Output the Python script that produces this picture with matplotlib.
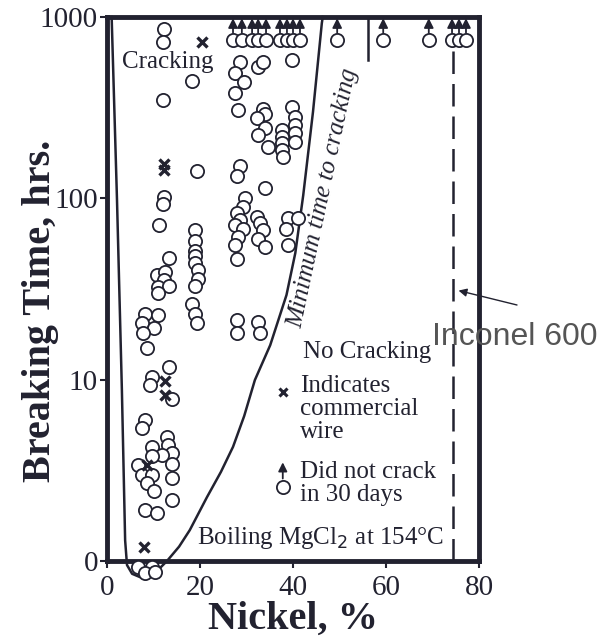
import matplotlib.pyplot as plt

plt.rcParams['font.family'] = ['Liberation Serif', 'DejaVu Serif']
ink = '#222230'

# cracked specimens (Ni %, hours)
crack_ni = [12.3, 12.0, 18.3, 12.0, 19.3, 12.3, 12.1, 11.2,
            18.9, 18.9, 18.9, 18.9, 18.9, 19.5, 19.5, 18.9, 18.3, 18.9, 19.3,
            13.4, 10.7, 12.5, 12.3, 11.0, 13.4, 10.9,
            8.2, 11.0, 7.5, 10.0, 7.8, 8.5, 13.4, 9.6, 9.2,
            13.9, 8.2, 7.5, 12.8, 13.2, 9.6, 13.9, 11.8, 9.6, 13.9, 6.7, 7.5, 9.6,
            13.9, 8.5, 10.0, 13.9, 8.2, 10.7, 6.7, 9.6, 8.2, 10.4,
            28.6, 32.4, 33.6, 39.7, 27.5, 29.5, 27.5, 28.2, 33.6, 34.0, 32.2, 39.7,
            34.0, 32.5, 37.6, 37.6, 37.6, 37.6, 37.8, 40.4, 40.4, 40.4, 40.4, 34.7,
            28.6, 27.9, 34.0, 29.7, 29.3, 27.9, 28.6, 27.5, 29.3, 28.2, 27.5, 27.9,
            32.2, 32.9, 33.6, 32.5, 34.0, 39.0, 41.1, 38.6, 39.0,
            27.9, 27.9, 32.5, 32.9]
crack_hrs = [860, 730, 444, 349, 142, 102, 93, 71,
             67, 58, 51, 48, 44, 40, 36, 33, 26, 23, 20.5,
             47, 38, 39, 35.5, 32.6, 33, 30,
             23, 22.7, 20.5, 19.2, 18, 15, 11.8, 10.4, 9.35,
             7.8, 6.0, 5.4, 4.85, 4.36, 4.27, 3.93, 3.84, 3.8, 3.43, 3.39, 2.98, 2.98,
             2.88, 2.68, 2.43, 2.17, 1.91, 1.83, 0.93, 0.93, 0.86, 0.87,
             567, 533, 567, 580, 490, 440, 380, 308, 310, 292, 277, 320,
             243, 224, 238, 219, 201, 185, 170, 282, 254, 229, 205, 193,
             150, 132, 114, 101, 90, 83, 76, 71, 68, 61.5, 55, 46,
             79, 73, 67, 60, 54, 78, 78, 68, 55,
             21.3, 18, 20.9, 18]

# commercial wire
wire_ni = [20.4, 12.3, 12.3, 12.5, 12.5, 8.5, 8.0]
wire_hrs = [730, 155, 143, 9.8, 8.2, 3.39, 1.2]

# did not crack in 30 days
nocrack_ni = [27.1, 29.0, 31.2, 32.5, 34.2, 37.2, 38.7, 40.0, 41.5,
              49.5, 59.4, 69.2, 74.2, 75.7, 77.2]
nocrack_hrs = 750

# minimum time to cracking curve
curve_ni = [1.0, 2.15, 3.2, 3.9, 4.3, 5.4, 7.1, 9.2, 11.4, 12.9, 15.5, 17.8,
            21.5, 24.5, 27.1, 29.5, 31.8, 35.1, 38.6, 40.5, 42.2, 44.3, 46.2, 46.4]
curve_hrs = [1000, 98, 8.8, 1.3, 0.95, 0.85, 0.815, 0.84, 0.915, 1.0, 1.2, 1.48,
             2.25, 3.1, 4.26, 6.3, 9.95, 15.5, 29.3, 50, 104, 300, 925, 1000]

inconel_ni = 74.4

fig = plt.figure(figsize=(6.13, 6.42), dpi=100)
ax = fig.add_axes([107/613, 81/642, 372/613, 544/642])
ax.set_yscale('log')
ax.set_xlim(0, 80)
ax.set_ylim(1, 1000)

ax.plot(curve_ni, curve_hrs, color=ink, lw=1.8, clip_on=False, zorder=3)
ax.plot([56.1, 56.1], [1000, 580], color=ink, lw=1.8, zorder=3)
ax.plot([inconel_ni, inconel_ni], [1, 650], color=ink, lw=1.8,
        linestyle=(0, (9, 4)), zorder=3)

circ = dict(marker='o', ms=9.5, mfc='white', mec=ink, mew=1.3,
            linestyle='none', clip_on=False, zorder=5)
ax.plot(crack_ni, crack_hrs, **circ)
ax.plot(nocrack_ni, [nocrack_hrs] * len(nocrack_ni), **circ)
for x in nocrack_ni:
    ax.annotate('', xy=(x, 985), xytext=(x, 820),
                arrowprops=dict(arrowstyle='-|>', color=ink, lw=1.3,
                                mutation_scale=14, shrinkA=0, shrinkB=0),
                zorder=4)
ax.plot(wire_ni, wire_hrs, marker='x', ms=7, mew=2.4, color=ink,
        linestyle='none', clip_on=False, zorder=6)

# text inside the plot
ax.text(13.1, 565, 'Cracking', fontsize=18, color=ink, ha='center', va='center')
ax.text(46.4, 100, 'Minimum time to cracking', fontsize=18, style='italic',
        color=ink, rotation=78, ha='center', va='center')
ax.text(42.2, 14.2, 'No Cracking', fontsize=18, color=ink, va='center')
ax.plot([37.8], [8.6], marker='x', ms=6, mew=2.2, color=ink, linestyle='none')
ax.text(41.5, 10.6, 'Indicates\ncommercial\nwire', fontsize=18, color=ink,
        va='top', ha='left', linespacing=1.05)
ax.plot([37.8], [2.56], **circ)
ax.annotate('', xy=(37.8, 3.5), xytext=(37.8, 2.85),
            arrowprops=dict(arrowstyle='-|>', color=ink, lw=1.3,
                            mutation_scale=13, shrinkA=0, shrinkB=0))
ax.text(41.5, 3.55, 'Did not crack\nin 30 days', fontsize=18, color=ink,
        va='top', ha='left', linespacing=1.05)
ax.text(19.4, 1.34, r'Boiling MgCl$_2$ at 154°C', fontsize=18, color=ink,
        va='center', ha='left')

# Inconel 600 annotation
ax.annotate('', xy=(75.6, 31), xytext=(517/613, 1 - 305/642),
            textcoords='figure fraction',
            arrowprops=dict(arrowstyle='-|>', color=ink, lw=1.0,
                            mutation_scale=12, shrinkA=0, shrinkB=0),
            annotation_clip=False)
fig.text(432/613, 1 - 337/642, 'Inconel 600', fontsize=23, color='#555555',
         family='Liberation Sans', va='center', ha='left')

ax.set_yticks([1, 10, 100, 1000])
ax.set_yticklabels(['0', '10', '100', '1000'])
ax.yaxis.set_minor_locator(plt.NullLocator())
ax.set_xticks([0, 20, 40, 60, 80])
ax.tick_params(axis='both', labelsize=21, colors=ink, length=5, width=1.5,
               direction='out')
ax.tick_params(axis='y', pad=1.5)
ax.tick_params(axis='x', pad=5)
for s in ax.spines.values():
    s.set_linewidth(3.5)
    s.set_color(ink)

ax.set_xlabel('Nickel, %', fontsize=29, fontweight='bold', color=ink)
ax.set_ylabel('Breaking Time, hrs.', fontsize=29, fontweight='bold', color=ink)
ax.xaxis.set_label_coords(0.5, -0.074)
ax.yaxis.set_label_coords(-0.13, 0.46)

fig.savefig('out.png', dpi=100)
